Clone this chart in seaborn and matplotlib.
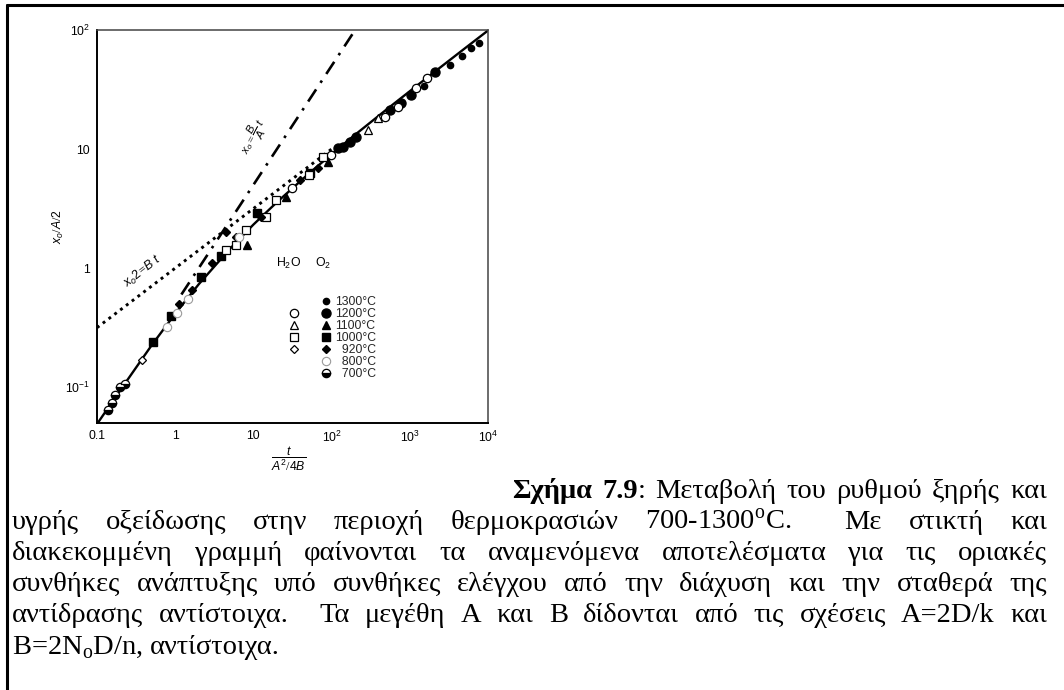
import matplotlib
matplotlib.use('Agg')
import matplotlib.pyplot as plt
import matplotlib.ticker as mticker
from matplotlib.lines import Line2D
from matplotlib.legend_handler import HandlerTuple
import seaborn as sns

# Normalised time t/(A^2/4B) and normalised thickness x_o/(A/2).
tau_1300_o2 = [1500, 3300, 4600, 6100, 7600]
x_1300_o2 = [34, 51, 60, 70, 78]
tau_1200_o2 = [122, 141, 173, 206, 557, 769, 1031, 2076]
x_1200_o2 = [10.2, 10.4, 11.5, 12.6, 21.3, 24.4, 28.4, 44]
tau_1200_h2o = [30.8, 99, 482, 705, 1191, 1658]
x_1200_h2o = [4.7, 8.9, 18.6, 22.5, 32.6, 39.5]
tau_1100_o2 = [8.26, 25.9, 91]
x_1100_o2 = [1.56, 3.95, 7.76]
tau_1100_h2o = [293, 393]
x_1100_h2o = [14.4, 18.2]
tau_1000_o2 = [0.514, 0.896, 2.15, 3.86, 11, 53.7]
x_1000_o2 = [0.24, 0.395, 0.84, 1.26, 2.9, 6.3]
tau_1000_h2o = [4.48, 6.0, 8.0, 14.4, 19.3, 50.7, 78.5]
x_1000_h2o = [1.42, 1.56, 2.08, 2.69, 3.73, 6.03, 8.6]
tau_920_o2 = [1.13, 1.66, 2.97, 4.5, 6.0, 12.5, 40, 67.6]
x_920_o2 = [0.5, 0.653, 1.10, 2.0, 1.82, 2.7, 5.5, 6.9]
tau_920_h2o = [0.373]
x_920_h2o = [0.169]
tau_800_o2 = [0.775, 1.07, 1.47, 6.55]
x_800_o2 = [0.319, 0.419, 0.55, 1.82]
tau_700_o2 = [0.138, 0.155, 0.169, 0.196, 0.227]
x_700_o2 = [0.064, 0.073, 0.086, 0.100, 0.106]

# General relationship (solid) and the two limiting cases.
tau_curve = [0.1, 0.2, 0.5, 1, 2, 5, 10, 20, 50, 100, 200, 500, 1000, 2000, 5000, 10000]
x_curve = [0.049, 0.095, 0.225, 0.414, 0.732, 1.45, 2.32, 3.58, 6.14, 9.05, 13.2,
           21.4, 30.6, 43.7, 69.7, 99.0]
tau_parab = [0.1, 100]
x_parab = [0.316, 10]
tau_lin = [1.2, 200]
x_lin = [0.6, 100]

temps = [1300, 1200, 1100, 1000, 920, 800, 700]
xticks = [0.1, 1, 10, 100, 1000, 10000]
xtick_labels = ['0.1', '1', '10', r'$\mathsf{10^{2}}$', r'$\mathsf{10^{3}}$', r'$\mathsf{10^{4}}$']
yticks = [0.1, 1, 10, 100]
ytick_labels = [r'$\mathsf{10^{-1}}$', '1', '10', r'$\mathsf{10^{2}}$']

caption = [
    [[('Σχήμα', 'bold')], [('7.9', 'bold'), (':', 'normal')], 'Μεταβολή', 'του', 'ρυθμού',
     'ξηρής', 'και'],
    ['υγρής', 'οξείδωσης', 'στην', 'περιοχή', 'θερμοκρασιών', r'700-1300$^{\rm o}$C.', 'Με',
     'στικτή', 'και'],
    ['διακεκομμένη', 'γραμμή', 'φαίνονται', 'τα', 'αναμενόμενα', 'αποτελέσματα', 'για', 'τις',
     'οριακές'],
    ['συνθήκες', 'ανάπτυξης', 'υπό', 'συνθήκες', 'ελέγχου', 'από', 'την', 'διάχυση', 'και',
     'την', 'σταθερά', 'της'],
    ['αντίδρασης', 'αντίστοιχα.', 'Τα', 'μεγέθη', 'A', 'και', 'B', 'δίδονται', 'από', 'τις',
     'σχέσεις', 'A=2D/k', 'και'],
    [r'B=2N$_{\rm o}$D/n,', 'αντίστοιχα.'],
]

sns.set_theme(style='white')
plt.rcParams['font.family'] = ['Liberation Sans', 'DejaVu Sans']
plt.rcParams['mathtext.fontset'] = 'custom'
plt.rcParams['mathtext.rm'] = 'Liberation Serif'
plt.rcParams['mathtext.it'] = 'Liberation Sans:italic'
plt.rcParams['mathtext.sf'] = 'Liberation Sans'
plt.rcParams['mathtext.bf'] = 'Liberation Sans:bold'

W, H = 1064, 690
fig = plt.figure(figsize=(W / 100, H / 100), dpi=100)
fig.patch.set_facecolor('white')
ax = fig.add_axes([97 / W, 1 - 423 / H, 391 / W, 393 / H])
ax.set_xscale('log')
ax.set_yscale('log')

# Lines: general curve, parabolic (dotted) and linear (dash-dot) limits.
sns.lineplot(x=tau_curve, y=x_curve, ax=ax, color='black', lw=1.7, estimator=None, sort=False)
sns.lineplot(x=tau_parab, y=x_parab, ax=ax, color='black', lw=2.1,
             linestyle=(0, (1.0, 1.5)), estimator=None, sort=False)
sns.lineplot(x=tau_lin, y=x_lin, ax=ax, color='black', lw=1.9,
             linestyle=(0, (5.5, 3.0, 1.0, 3.0)), estimator=None, sort=False)

# Marker styles per series (H2O open, O2 filled).
styles = {
    '1300_o2': dict(marker='o', ms=4.5, mfc='black', mec='black'),
    '1200_o2': dict(marker='o', ms=6.5, mfc='black', mec='black'),
    '1200_h2o': dict(marker='o', ms=6.0, mfc='white', mec='black', mew=0.9),
    '1100_o2': dict(marker='^', ms=5.5, mfc='black', mec='black'),
    '1100_h2o': dict(marker='^', ms=5.5, mfc='white', mec='black', mew=0.9),
    '1000_o2': dict(marker='s', ms=5.5, mfc='black', mec='black'),
    '1000_h2o': dict(marker='s', ms=5.5, mfc='white', mec='black', mew=0.9),
    '920_o2': dict(marker='D', ms=4.5, mfc='black', mec='black'),
    '920_h2o': dict(marker='D', ms=4.5, mfc='white', mec='black', mew=0.9),
    '800_o2': dict(marker='o', ms=6.0, mfc='white', mec='#9a9a9a', mew=0.8),
    '700_o2': dict(marker='o', ms=6.0, mfc='black', mfcalt='white', mec='black',
                   fillstyle='bottom', mew=0.9),
}
series = {
    '1300_o2': (tau_1300_o2, x_1300_o2),
    '1200_o2': (tau_1200_o2, x_1200_o2),
    '1200_h2o': (tau_1200_h2o, x_1200_h2o),
    '1100_o2': (tau_1100_o2, x_1100_o2),
    '1100_h2o': (tau_1100_h2o, x_1100_h2o),
    '1000_o2': (tau_1000_o2, x_1000_o2),
    '1000_h2o': (tau_1000_h2o, x_1000_h2o),
    '920_o2': (tau_920_o2, x_920_o2),
    '920_h2o': (tau_920_h2o, x_920_h2o),
    '800_o2': (tau_800_o2, x_800_o2),
    '700_o2': (tau_700_o2, x_700_o2),
}
for key, (tx, xy) in series.items():
    ax.plot(tx, xy, linestyle='none', zorder=3, **styles[key])

ax.set_xlim(0.1, 1e4)
ax.set_ylim(0.05, 100)
ax.set_xticks(xticks, labels=xtick_labels)
ax.set_yticks(yticks, labels=ytick_labels)
ax.xaxis.set_minor_locator(mticker.LogLocator(base=10, subs=[2, 4, 6, 8], numticks=30))
ax.yaxis.set_minor_locator(mticker.LogLocator(base=10, subs=[2, 4, 6, 8], numticks=30))
ax.xaxis.set_minor_formatter(mticker.NullFormatter())
ax.yaxis.set_minor_formatter(mticker.NullFormatter())
ax.tick_params(which='both', direction='in', top=False, right=False, color='black',
               labelsize=8.8, labelcolor='black')
ax.tick_params(which='major', length=13, width=1.1, pad=5)
ax.tick_params(which='minor', length=8, width=1.0)
for side in ['left', 'bottom']:
    ax.spines[side].set_linewidth(1.4)
    ax.spines[side].set_color('black')
for side in ['top', 'right']:
    ax.spines[side].set_linewidth(1.1)
    ax.spines[side].set_color('#444444')

ax.set_ylabel(r'$x_o/A/\mathsf{2}$', fontsize=8.8, color='black')
ax.yaxis.set_label_coords(-0.08, 0.5)
ax.set_xlabel(r'$\dfrac{t}{A^\mathsf{2}/\mathsf{4}B}$', fontsize=8.8, color='black')
ax.xaxis.set_label_coords(0.49, -0.055)

ax.text(10.1, 12.6, r'$x_o = \dfrac{B}{A}\ t$', rotation=62, fontsize=8,
        ha='center', va='center', color='black')
ax.text(0.384, 0.93, r'$x_o\mathsf{2}\!=\!B\ t$', rotation=38, fontsize=9,
        ha='center', va='center', color='black')

# Legend: two marker columns (H2O, O2) with temperature labels.
h2o_keys = {1200: '1200_h2o', 1100: '1100_h2o', 1000: '1000_h2o', 920: '920_h2o'}
o2_keys = {t: f'{t}_o2' for t in temps}
blank = Line2D([], [], linestyle='none', marker='')
handles, labels = [], []
for t in temps:
    h1 = Line2D([], [], linestyle='none', **styles[h2o_keys[t]]) if t in h2o_keys else blank
    h2 = Line2D([], [], linestyle='none', **styles[o2_keys[t]])
    handles.append((h1, h2))
    labels.append('\u2007' * (4 - len(str(t))) + f'{t}°C')
fs = 8.8
fs_px = fs * 100 / 72
ax.legend(handles, labels, handler_map={tuple: HandlerTuple(ndivide=None, pad=24 / fs_px)},
          loc='upper left', bbox_to_anchor=(0.4936, 0.3232), frameon=False, borderpad=0,
          borderaxespad=0, handlelength=40 / fs_px, handletextpad=5 / fs_px,
          labelspacing=0.0, fontsize=fs, numpoints=1)
ax.text(0.491, 0.407, r'H$_\mathsf{2}$O', transform=ax.transAxes, ha='center',
        va='center', fontsize=fs, color='black')
ax.text(0.578, 0.407, r'O$_\mathsf{2}$', transform=ax.transAxes, ha='center',
        va='center', fontsize=fs, color='black')

# Page border (top and left rule of the scanned page).
fig.add_artist(Line2D([7 / W, 1], [1 - 5 / H, 1 - 5 / H], transform=fig.transFigure,
                      color='black', lw=2.2))
fig.add_artist(Line2D([7 / W, 7 / W], [0, 1 - 5 / H], transform=fig.transFigure,
                      color='black', lw=2.2))

# Caption, justified between the margins.
renderer = fig.canvas.get_renderer()
cap_fs = 20.5
baselines = [498, 529, 560, 591, 622, 654]
line_start = [512, 12, 12, 12, 12, 12]
right_edge = 1047


def place_line(words, x0, x1, y, justify):
    pieces = []
    for w in words:
        parts = [(w, 'normal')] if isinstance(w, str) else w
        arts = []
        for txt, weight in parts:
            arts.append(fig.text(0, 1 - y / H, txt, fontsize=cap_fs, fontweight=weight,
                                 family='Liberation Serif', va='baseline', ha='left',
                                 color='black'))
        pieces.append(arts)
    widths = [[a.get_window_extent(renderer).width for a in arts] for arts in pieces]
    total = sum(sum(ws) for ws in widths)
    weights = [2 if (isinstance(w, str) and w.endswith('.')) else 1 for w in words[:-1]]
    gap = (x1 - x0 - total) / sum(weights) if justify else 7
    x = x0
    for i, (arts, ws) in enumerate(zip(pieces, widths)):
        for a, wd in zip(arts, ws):
            a.set_x(x / W)
            x += wd
        if i < len(weights):
            x += gap * weights[i]


for i, words in enumerate(caption):
    place_line(words, line_start[i], right_edge, baselines[i], i < len(caption) - 1)

fig.savefig('out.png', dpi=100, facecolor='white')
